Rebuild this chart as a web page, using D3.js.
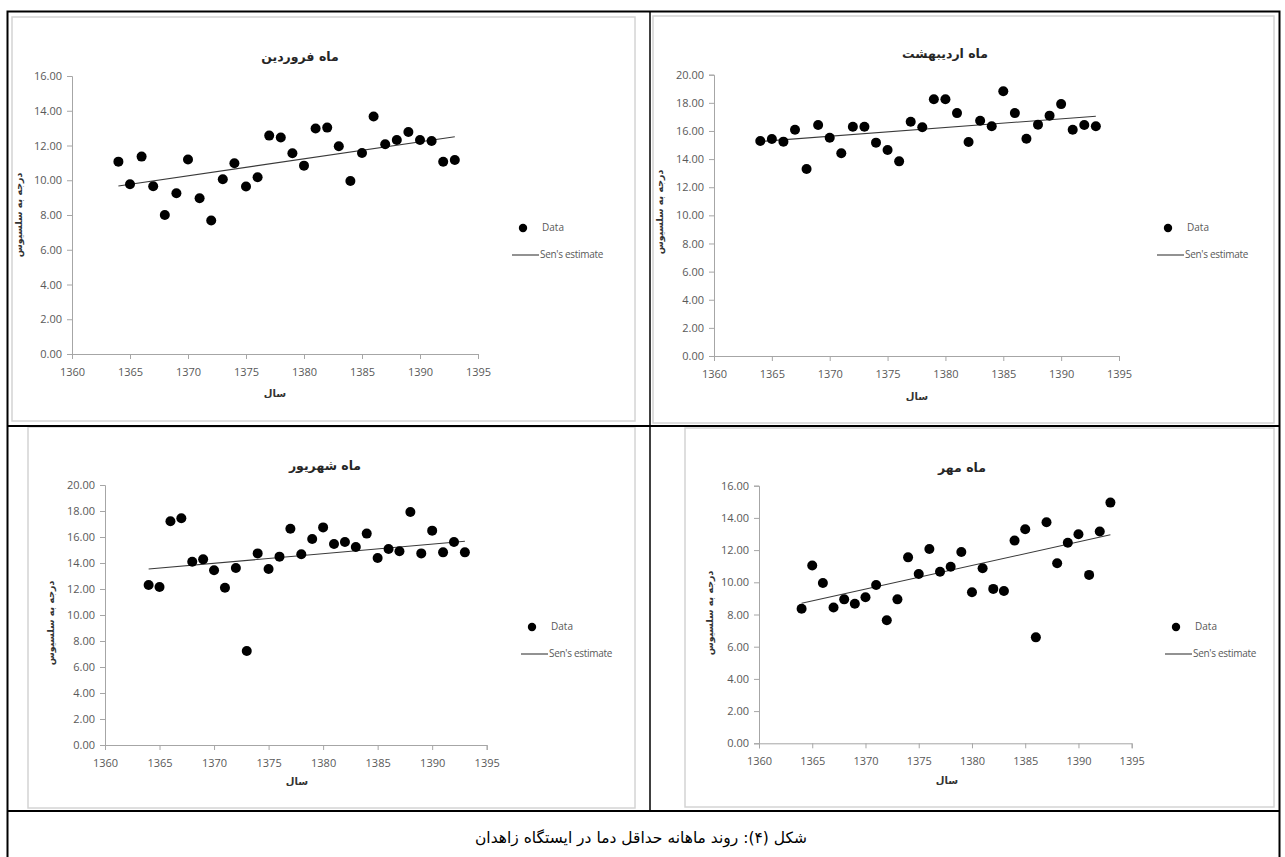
<!DOCTYPE html>
<html>
<head>
<meta charset="utf-8">
<script src="https://cdn.jsdelivr.net/npm/d3@7"></script>
<style>
  body { margin: 0; background: #fff; }
  text { font-family: "Open Sans", "DejaVu Sans", sans-serif; }
  .fa { font-family: "DejaVu Sans", sans-serif; }
</style>
</head>
<body>
<div id="chart"></div>
<script>
// years on the x axis (same for every month)
var years = [1364, 1365, 1366, 1367, 1368, 1369, 1370, 1371, 1372, 1373,
             1374, 1375, 1376, 1377, 1378, 1379, 1380, 1381, 1382, 1383,
             1384, 1385, 1386, 1387, 1388, 1389, 1390, 1391, 1392, 1393];

// monthly minimum temperature, Zahedan
var farvardin   = [11.07, 9.77, 11.36, 9.65, 8.00, 9.25, 11.19, 8.96, 7.68, 10.06,
                   10.98, 9.64, 10.17, 12.57, 12.46, 11.55, 10.84, 12.98, 13.03, 11.96,
                   9.96, 11.57, 13.67, 12.07, 12.32, 12.78, 12.32, 12.26, 11.06, 11.17];
var ordibehesht = [15.28, 15.43, 15.24, 16.09, 13.29, 16.42, 15.52, 14.41, 16.30, 16.30,
                   15.17, 14.64, 13.84, 16.66, 16.26, 18.25, 18.25, 17.27, 15.21, 16.73,
                   16.33, 18.82, 17.27, 15.45, 16.45, 17.09, 17.91, 16.09, 16.42, 16.33];
var shahrivar   = [12.31, 12.15, 17.21, 17.44, 14.10, 14.28, 13.44, 12.10, 13.62, 7.23,
                   14.74, 13.54, 14.49, 16.64, 14.67, 15.85, 16.74, 15.46, 15.62, 15.23,
                   16.26, 14.38, 15.08, 14.90, 17.92, 14.74, 16.49, 14.82, 15.62, 14.82];
var mehr        = [8.36, 11.04, 9.96, 8.43, 8.94, 8.67, 9.07, 9.83, 7.64, 8.94,
                   11.55, 10.52, 12.07, 10.66, 10.97, 11.88, 9.38, 10.87, 9.59, 9.46,
                   12.59, 13.29, 6.58, 13.73, 11.18, 12.46, 12.98, 10.46, 13.15, 14.95];

// Sen's estimate trend line end points
var senYears       = [1364, 1393];
var senFarvardin   = [9.67, 12.50];
var senOrdibehesht = [15.25, 17.05];
var senShahrivar   = [13.54, 15.67];
var senMehr        = [8.70, 12.95];

// ticks
var xTicks  = [1360, 1365, 1370, 1375, 1380, 1385, 1390, 1395];
var yTicks16 = [0, 2, 4, 6, 8, 10, 12, 14, 16];
var yTicks20 = [0, 2, 4, 6, 8, 10, 12, 14, 16, 18, 20];

var titles = ["ماه فروردین", "ماه اردیبهشت", "ماه شهریور", "ماه مهر"];
var yTitle = "درجه به سلسیوس";
var xTitle = "سال";
var caption = "شکل (۴): روند ماهانه حداقل دما در ایستگاه زاهدان";
var legendLabels = ["Data", "Sen's estimate"];

var W = 1285, H = 857;
var svg = d3.select("#chart").append("svg")
    .attr("width", W)
    .attr("height", H);

// panel layout
var panels = [
  { title: titles[0], values: farvardin, sen: senFarvardin, yMax: 16, yTicks: yTicks16,
    frame: [12, 17, 635, 421], plot: [72, 478, 76, 354],
    titlePos: [300, 57], yTitlePos: [19, 215], xTitlePos: [275, 394], legend: [523, 228] },
  { title: titles[1], values: ordibehesht, sen: senOrdibehesht, yMax: 20, yTicks: yTicks20,
    frame: [653, 16, 1274, 423], plot: [714, 1119, 74.7, 356],
    titlePos: [945, 54], yTitlePos: [660, 212], xTitlePos: [917, 397], legend: [1168, 228] },
  { title: titles[2], values: shahrivar, sen: senShahrivar, yMax: 20, yTicks: yTicks20,
    frame: [28, 427, 635, 808], plot: [105, 486.7, 485, 745],
    titlePos: [325, 466], yTitlePos: [51, 623], xTitlePos: [297, 782], legend: [532, 627] },
  { title: titles[3], values: mehr, sen: senMehr, yMax: 16, yTicks: yTicks16,
    frame: [685, 428, 1274, 807], plot: [759, 1131.7, 485.7, 743.3],
    titlePos: [962, 468], yTitlePos: [710, 613], xTitlePos: [947, 781], legend: [1176, 627] }
];

var axisColor = "#a6a6a6";
var labelColor = "#595959";

panels.forEach(function(p) {
  var g = svg.append("g");

  // chart frame
  g.append("rect")
      .attr("x", p.frame[0]).attr("y", p.frame[1])
      .attr("width", p.frame[2] - p.frame[0])
      .attr("height", p.frame[3] - p.frame[1])
      .attr("fill", "#fff")
      .attr("stroke", "#d4d4d4")
      .attr("stroke-width", 1.5);

  var x = d3.scaleLinear().domain([1360, 1395]).range([p.plot[0], p.plot[1]]);
  var y = d3.scaleLinear().domain([0, p.yMax]).range([p.plot[3], p.plot[2]]);

  // y axis
  var yAxis = g.append("g")
      .attr("transform", "translate(" + p.plot[0] + ",0)")
      .call(d3.axisLeft(y).tickValues(p.yTicks).tickSize(5).tickPadding(5)
            .tickFormat(d3.format(".2f")));
  // x axis
  var xAxis = g.append("g")
      .attr("transform", "translate(0," + p.plot[3] + ")")
      .call(d3.axisBottom(x).tickValues(xTicks).tickSize(5).tickPadding(9)
            .tickFormat(d3.format("d")));

  [xAxis, yAxis].forEach(function(a) {
    a.select(".domain").attr("stroke", axisColor);
    a.selectAll(".tick line").attr("stroke", axisColor);
    a.selectAll(".tick text")
        .attr("fill", labelColor)
        .style("font-size", "11px")
        .style("font-family", "'Open Sans', sans-serif");
  });

  // Sen's estimate line
  var line = d3.line()
      .x(function(d) { return x(d[0]); })
      .y(function(d) { return y(d[1]); });
  g.append("path")
      .datum(d3.zip(senYears, p.sen))
      .attr("d", line)
      .attr("fill", "none")
      .attr("stroke", "#3a3a3a")
      .attr("stroke-width", 1.1);

  // data points
  g.selectAll("circle.pt")
      .data(d3.zip(years, p.values))
      .enter().append("circle")
      .attr("class", "pt")
      .attr("cx", function(d) { return x(d[0]); })
      .attr("cy", function(d) { return y(d[1]); })
      .attr("r", 5)
      .attr("fill", "#000");

  // title
  g.append("text")
      .attr("class", "fa")
      .attr("x", p.titlePos[0]).attr("y", p.titlePos[1])
      .attr("text-anchor", "middle")
      .attr("dominant-baseline", "middle")
      .attr("direction", "rtl")
      .style("font-size", "12.5px")
      .style("font-weight", "bold")
      .attr("fill", "#262626")
      .text(p.title);

  // axis titles
  g.append("text")
      .attr("class", "fa")
      .attr("transform", "translate(" + p.yTitlePos[0] + "," + p.yTitlePos[1] + ") rotate(-90)")
      .attr("text-anchor", "middle")
      .attr("dominant-baseline", "middle")
      .attr("direction", "rtl")
      .style("font-size", "9.5px")
      .style("font-weight", "bold")
      .attr("fill", "#333")
      .text(yTitle);

  g.append("text")
      .attr("class", "fa")
      .attr("x", p.xTitlePos[0]).attr("y", p.xTitlePos[1])
      .attr("text-anchor", "middle")
      .attr("dominant-baseline", "middle")
      .attr("direction", "rtl")
      .style("font-size", "10px")
      .style("font-weight", "bold")
      .attr("fill", "#333")
      .text(xTitle);

  // legend
  var lx = p.legend[0], ly = p.legend[1];
  g.append("circle")
      .attr("cx", lx).attr("cy", ly).attr("r", 4.2)
      .attr("fill", "#000");
  g.append("text")
      .attr("x", lx + 19).attr("y", ly)
      .attr("dominant-baseline", "middle")
      .style("font-size", "10px")
      .attr("fill", labelColor)
      .text(legendLabels[0]);
  g.append("line")
      .attr("x1", lx - 11).attr("x2", lx + 16)
      .attr("y1", ly + 27).attr("y2", ly + 27)
      .attr("stroke", "#3a3a3a")
      .attr("stroke-width", 1.1);
  g.append("text")
      .attr("x", lx + 17).attr("y", ly + 27)
      .attr("dominant-baseline", "middle")
      .style("font-size", "10px")
      .style("letter-spacing", "-0.3px")
      .attr("fill", labelColor)
      .text(legendLabels[1]);
});

// table borders (bottom edge runs off the page)
var border = svg.append("g")
    .attr("stroke", "#000")
    .attr("fill", "none");
border.append("rect")
    .attr("x", 7.5).attr("y", 11.5)
    .attr("width", 1272).attr("height", 860)
    .attr("stroke-width", 2);
border.append("line")
    .attr("x1", 650).attr("x2", 650).attr("y1", 11).attr("y2", 811)
    .attr("stroke-width", 1.5);
border.append("line")
    .attr("x1", 7).attr("x2", 1280).attr("y1", 426).attr("y2", 426)
    .attr("stroke-width", 2);
border.append("line")
    .attr("x1", 7).attr("x2", 1280).attr("y1", 811).attr("y2", 811)
    .attr("stroke-width", 2);

// caption
svg.append("text")
    .attr("x", 641).attr("y", 838)
    .attr("text-anchor", "middle")
    .attr("dominant-baseline", "middle")
    .attr("direction", "rtl")
    .style("font-family", "'DejaVu Sans', serif")
    .style("font-size", "15.5px")
    .attr("fill", "#000")
    .text(caption);
</script>
</body>
</html>
